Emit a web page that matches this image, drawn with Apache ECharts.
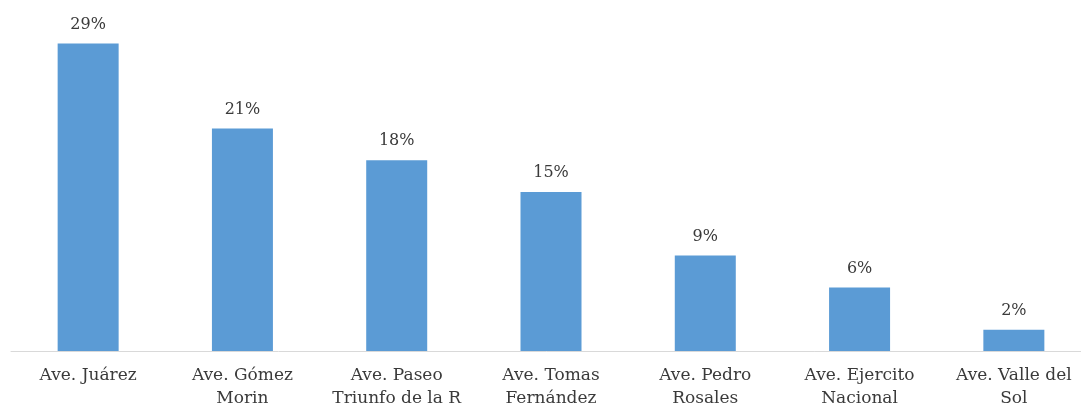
<!DOCTYPE html>
<html><head><meta charset="utf-8">
<script src="https://cdn.jsdelivr.net/npm/echarts@6/dist/echarts.min.js"></script>
<style>html,body{margin:0;padding:0;background:#fff}#c{width:1081px;height:410px}</style>
</head><body><div id="c"></div>
<script>
const categories = ["Ave. Juárez", "Ave. Gómez\nMorin", "Ave. Paseo\nTriunfo de la R", "Ave. Tomas\nFernández", "Ave. Pedro\nRosales", "Ave. Ejercito\nNacional", "Ave. Valle del\nSol"];
const values = [29, 21, 18, 15, 9, 6, 2];
const chart = echarts.init(document.getElementById('c'));
chart.setOption({
  animation: false,
  grid: {left: 11, width: 1080, top: 33, height: 318, outerBoundsMode: 'none', containLabel: false},
  xAxis: {
    type: 'category', data: categories,
    axisLine: {lineStyle: {color: '#d9d9d9', width: 1}},
    axisTick: {show: false},
    axisLabel: {color: '#3a3a3a', fontFamily: 'DejaVu Serif', fontSize: 17, lineHeight: 23, margin: 13, interval: 0}
  },
  yAxis: {type: 'value', min: 0, max: 30, show: false, splitLine: {show: false}},
  series: [{
    type: 'bar', data: values, barWidth: 61,
    itemStyle: {color: '#5b9bd5'},
    label: {show: true, position: 'top', distance: 11, formatter: '{c}%', color: '#3a3a3a', fontFamily: 'DejaVu Serif', fontSize: 16}
  }]
});
</script></body></html>
